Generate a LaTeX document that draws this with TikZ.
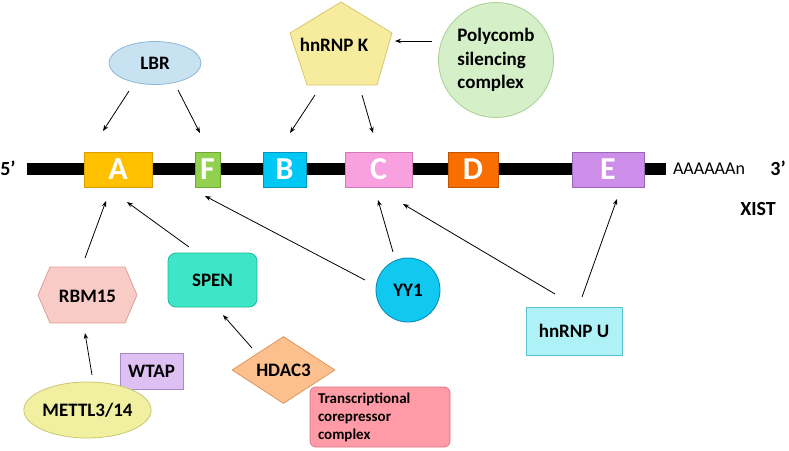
\documentclass[tikz,border=0pt]{standalone}
\usepackage{fontspec}
\setmainfont{Carlito}
\usetikzlibrary{shapes.geometric,arrows.meta,calc}
\definecolor{exA}{HTML}{FFC000}\definecolor{exAd}{HTML}{D9A000}
\definecolor{exF}{HTML}{92D050}\definecolor{exFd}{HTML}{6FA834}
\definecolor{exB}{HTML}{00C8F5}\definecolor{exBd}{HTML}{0096BB}
\definecolor{exC}{HTML}{F9A0E0}\definecolor{exCd}{HTML}{D07AB8}
\definecolor{exD}{HTML}{FA6E00}\definecolor{exDd}{HTML}{C05400}
\definecolor{exE}{HTML}{CC8EE8}\definecolor{exEd}{HTML}{9C66B8}
\definecolor{cLBR}{HTML}{C8E2F2}\definecolor{cLBRd}{HTML}{8FB8D8}
\definecolor{cHNK}{HTML}{F7EB9E}\definecolor{cHNKd}{HTML}{D8C770}
\definecolor{cPC}{HTML}{D5EFC9}\definecolor{cPCd}{HTML}{A8CF94}
\definecolor{cRBM}{HTML}{F9CBC6}\definecolor{cRBMd}{HTML}{E0A09A}
\definecolor{cSPEN}{HTML}{3EE6C8}\definecolor{cSPENd}{HTML}{22B59A}
\definecolor{cHD}{HTML}{FBC08E}\definecolor{cHDd}{HTML}{E0955A}
\definecolor{cWT}{HTML}{DEC0F2}\definecolor{cWTd}{HTML}{A88AC8}
\definecolor{cME}{HTML}{F0F0A0}\definecolor{cMEd}{HTML}{C8C870}
\definecolor{cTR}{HTML}{FF9BA6}\definecolor{cTRd}{HTML}{E07080}
\definecolor{cYY}{HTML}{10C8F0}\definecolor{cYYd}{HTML}{0888B0}
\definecolor{cHU}{HTML}{AEF2F8}\definecolor{cHUd}{HTML}{5FBFCB}
\tikzset{
  exon/.style={rectangle, inner sep=0pt, minimum height=35pt, line width=0.8pt,
     text=white, font=\fontsize{32}{34}\selectfont\bfseries},
  lbl/.style={inner sep=0pt, line width=0.8pt, font=\fontsize{19}{23.5}\selectfont\bfseries},
  arr/.style={-{Stealth[length=6pt,width=4.5pt]}, line width=0.8pt},
}
\begin{document}
\begin{tikzpicture}[x=1pt,y=-1pt]
\useasboundingbox (0,0) rectangle (789,450);
% backbone
\node[fill=black, inner sep=0pt, minimum width=639pt, minimum height=12pt] (bar) at (346.5,169) {};
\node[font=\fontsize{20}{22}\selectfont\bfseries] (five) at (8,168) {5’};
\node[font=\fontsize{18}{20}\selectfont] (polyA) at (709,169) {AAAAAAn};
\node[font=\fontsize{20}{22}\selectfont\bfseries] (three) at (778,168) {3’};
\node[font=\fontsize{20}{22}\selectfont\bfseries] (xist) at (758,209) {XIST};
% exons
\node[exon, fill=exA, draw=exAd, minimum width=68pt] (A) at (118,169.5) {A};
\node[exon, fill=exF, draw=exFd, minimum width=25pt] (F) at (207.5,169.5) {F};
\node[exon, fill=exB, draw=exBd, minimum width=43pt] (B) at (284.5,169.5) {B};
\node[exon, fill=exC, draw=exCd, minimum width=67pt] (C) at (378.5,169.5) {C};
\node[exon, fill=exD, draw=exDd, minimum width=50pt] (D) at (473,169.5) {D};
\node[exon, fill=exE, draw=exEd, minimum width=72pt] (E) at (608,169.5) {E};
% top partners
\node[lbl, ellipse, fill=cLBR, draw=cLBRd, minimum width=92pt, minimum height=43pt] (lbr) at (155,63) {LBR};
\draw[fill=cHNK, draw=cHNKd, line width=0.8pt] (341,2) -- (392,33) -- (377,85) -- (307,85) -- (290,33) -- cycle;
\node[lbl] (hnk) at (334,45) {hnRNP K};
\node[lbl, circle, fill=cPC, draw=cPCd, minimum size=115pt, align=left] (pcomb) at (496,60) {Polycomb\\silencing\\complex};
% bottom partners
\draw[fill=cRBM, draw=cRBMd, line width=0.8pt] (38,295) -- (50,267) -- (125,267) -- (137,295) -- (125,323) -- (50,323) -- cycle;
\node[lbl] (rbm) at (87.5,296) {RBM15};
\node[lbl, rectangle, rounded corners=8pt, fill=cSPEN, draw=cSPENd, minimum width=89pt, minimum height=54pt] (spen) at (212.5,280) {SPEN\hspace{8pt}};
\node[lbl, diamond, fill=cHD, draw=cHDd, minimum width=103pt, minimum height=66pt] (hdac) at (283.5,370) {HDAC3};
\node[lbl, rectangle, fill=cWT, draw=cWTd, minimum width=63pt, minimum height=36pt] (wtap) at (151.5,371) {WTAP};
\node[lbl, ellipse, fill=cME, draw=cMEd, minimum width=111pt, minimum height=56pt] (mettl) at (87.5,410) {METTL3/14};
\node[lbl, rectangle, rounded corners=6pt, fill=cTR, draw=cTRd, minimum width=140pt, minimum height=60pt,
      align=left, text width=124pt, font=\fontsize{15}{18}\selectfont\bfseries] (trans) at (380,417) {Transcriptional\\corepressor\\complex};
\node[lbl, circle, fill=cYY, draw=cYYd, minimum size=64pt] (yy1) at (408,290) {YY1};
\node[lbl, rectangle, fill=cHU, draw=cHUd, minimum width=96pt, minimum height=48pt] (hnu) at (574,331) {hnRNP U\hspace{10pt}};
% connectors
\draw[arr] ($(lbr)+(-26,28)$) -- ($(A)+(-15,-38.5)$);
\draw[arr] ($(lbr)+(23,27)$) -- ($(F)+(-7.5,-36.5)$);
\draw[arr] ($(hnk)+(-19,50)$) -- ($(B)+(5.5,-36.5)$);
\draw[arr] ($(hnk)+(28,50)$) -- ($(C)+(-5.5,-36.5)$);
\draw[arr] ($(pcomb)+(-64,-19)$) -- ($(hnk)+(61,-4)$);
\draw[arr] ($(rbm)+(-2.5,-38)$) -- ($(A)+(-12,31.5)$);
\draw[arr] ($(spen)+(-23.5,-33)$) -- ($(A)+(9,32.5)$);
\draw[arr] ($(yy1)+(-43,-10)$) -- ($(F)+(-2.5,26.5)$);
\draw[arr] ($(yy1)+(-15,-38)$) -- ($(C)+(-0.5,30.5)$);
\draw[arr] ($(hnu)+(-19,-37)$) -- ($(C)+(24.5,34.5)$);
\draw[arr] ($(hnu)+(8,-34)$) -- ($(E)+(9,29.5)$);
\draw[arr] ($(mettl)+(4.5,-35)$) -- ($(rbm)+(-2.5,37)$);
\draw[arr] ($(hdac)+(-31.5,-22)$) -- ($(spen)+(10.5,35)$);
\end{tikzpicture}
\end{document}
